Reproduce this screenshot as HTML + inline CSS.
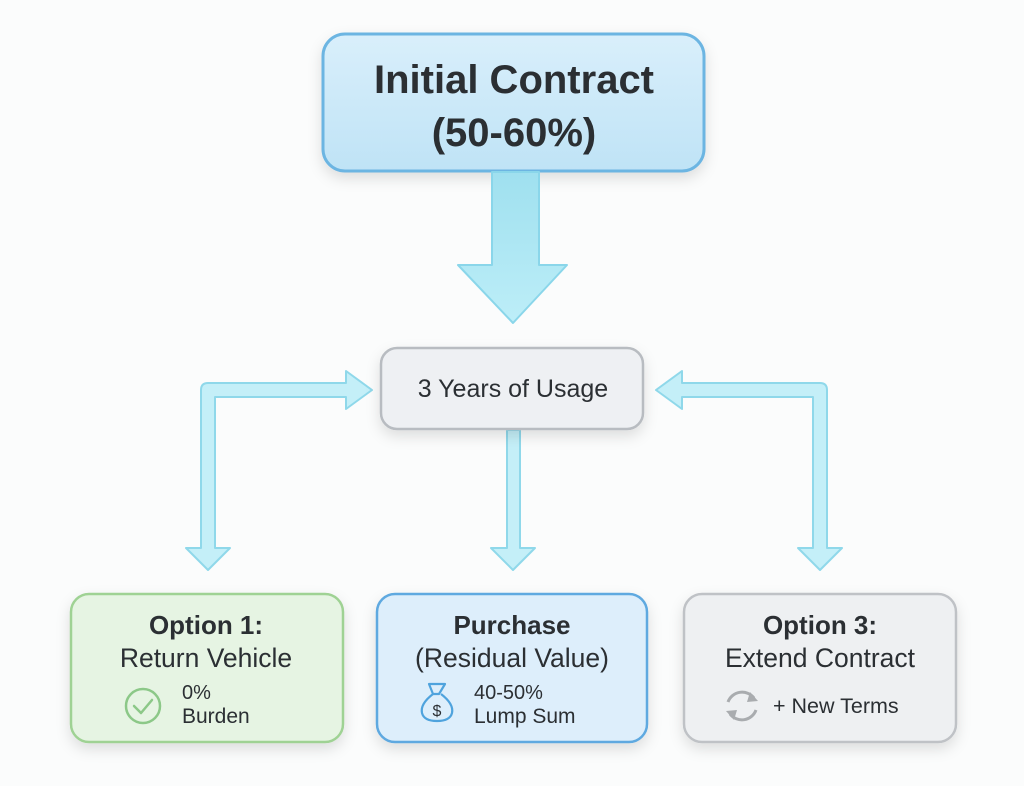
<!DOCTYPE html>
<html><head><meta charset="utf-8"><style>
html,body{margin:0;padding:0;background:#fbfcfc;width:1024px;height:786px;overflow:hidden}
svg{display:block}
text{font-family:"Liberation Sans",sans-serif;fill:#2b2f33}
</style></head><body>
<svg width="1024" height="786" viewBox="0 0 1024 786">
<defs>
<linearGradient id="tb" x1="0" y1="0" x2="0" y2="1"><stop offset="0" stop-color="#d9effb"/><stop offset="1" stop-color="#bfe3f6"/></linearGradient>
<linearGradient id="ar" x1="0" y1="0" x2="0" y2="1"><stop offset="0" stop-color="#9fe0ef"/><stop offset="1" stop-color="#bdeef8"/></linearGradient>
<filter id="sh" x="-20%" y="-20%" width="140%" height="150%"><feDropShadow dx="0" dy="6" stdDeviation="7" flood-color="#000" flood-opacity="0.12"/></filter>
</defs>
<rect x="323" y="34" width="381" height="137" rx="22" fill="url(#tb)" stroke="#6cb5e2" stroke-width="3" filter="url(#sh)"/>
<text x="514" y="93" font-size="40" font-weight="bold" text-anchor="middle">Initial Contract</text>
<text x="514" y="146" font-size="40" font-weight="bold" text-anchor="middle">(50-60%)</text>
<path d="M492 172 H539 V265 H567 L513 323 L458 265 H492 Z" fill="url(#ar)" stroke="#8ad6ea" stroke-width="2" stroke-linejoin="round"/>
<g fill="#c4eff8" stroke="#8fd8ea" stroke-width="2" stroke-linejoin="round">
<path d="M201 548 V390 Q201 383 208 383 H346 V371 L372 390 L346 409 V397 H215 V548 H230 L208 570 L186 548 Z"/>
<path d="M507 430 H520 V548 H535 L513 570 L491 548 H507 Z"/>
<path d="M827 548 V390 Q827 383 820 383 H682 V371 L656 390 L682 409 V397 H813 V548 H798 L820 570 L842 548 Z"/>
</g>
<rect x="381" y="348" width="262" height="81" rx="16" fill="#eef0f3" stroke="#b8bcc1" stroke-width="2.5" filter="url(#sh)"/>
<text x="513" y="397" font-size="25" text-anchor="middle">3 Years of Usage</text>
<rect x="71" y="594" width="272" height="148" rx="18" fill="#e6f4e3" stroke="#9fd294" stroke-width="2.5" filter="url(#sh)"/>
<rect x="377" y="594" width="270" height="148" rx="18" fill="#ddeefb" stroke="#5ea9e0" stroke-width="2.5" filter="url(#sh)"/>
<rect x="684" y="594" width="272" height="148" rx="18" fill="#eef0f2" stroke="#bfc2c6" stroke-width="2.5" filter="url(#sh)"/>
<text x="206" y="634" font-size="26" font-weight="bold" text-anchor="middle">Option 1:</text>
<text x="206" y="667" font-size="26.5" text-anchor="middle" fill="#3a3e42">Return Vehicle</text>
<text x="512" y="634" font-size="26" font-weight="bold" text-anchor="middle">Purchase</text>
<text x="512" y="667" font-size="26.5" text-anchor="middle" fill="#3a3e42">(Residual Value)</text>
<text x="820" y="634" font-size="26" font-weight="bold" text-anchor="middle">Option 3:</text>
<text x="820" y="667" font-size="26.5" text-anchor="middle" fill="#3a3e42">Extend Contract</text>
<circle cx="143" cy="706" r="17" fill="none" stroke="#8cc888" stroke-width="2.5"/>
<path d="M134 706 L141 713 L152 700" fill="none" stroke="#8cc888" stroke-width="2.5" stroke-linecap="round" stroke-linejoin="round"/>
<text x="182" y="699" font-size="20" fill="#3a3e42">0%</text>
<text x="182" y="723" font-size="21" fill="#3a3e42">Burden</text>
<g fill="none" stroke="#4fa3dd" stroke-width="2.2" stroke-linejoin="round">
<path d="M429 684 L445 684 L439 694 L433 694 Z"/>
<path d="M433 694 Q420 704 422 713 Q424 721 437 721 Q450 721 452 713 Q454 704 441 694"/>
</g>
<text x="437" y="716" font-size="16" fill="#4fa3dd" text-anchor="middle">$</text>
<text x="474" y="699" font-size="20" fill="#3a3e42">40-50%</text>
<text x="474" y="723" font-size="21" fill="#3a3e42">Lump Sum</text>
<g fill="none" stroke="#a9acaf" stroke-width="3">
<path d="M728 702 A15 15 0 0 1 754 698"/>
<path d="M756 710 A15 15 0 0 1 730 714"/>
</g>
<path d="M750 692 L758 701 L747 702 Z" fill="#a9acaf"/>
<path d="M734 720 L726 711 L737 710 Z" fill="#a9acaf"/>
<text x="773" y="713" font-size="21.5" fill="#3a3e42">+ New Terms</text>
</svg>
</body></html>
